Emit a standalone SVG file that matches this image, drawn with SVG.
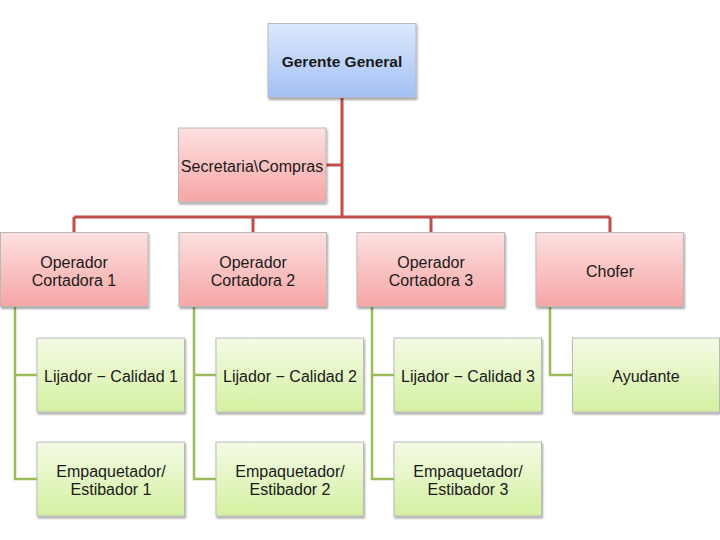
<svg xmlns="http://www.w3.org/2000/svg" width="720" height="540" viewBox="0 0 720 540">
<defs>
<linearGradient id="gBlue" x1="0" y1="0" x2="0" y2="1">
<stop offset="0" stop-color="#dce8fc"/>
<stop offset="1" stop-color="#a3c0f5"/>
</linearGradient>
<linearGradient id="gRed" x1="0" y1="0" x2="0" y2="1">
<stop offset="0" stop-color="#fde0e0"/>
<stop offset="1" stop-color="#f6a5a5"/>
</linearGradient>
<linearGradient id="gGreen" x1="0" y1="0" x2="0" y2="1">
<stop offset="0" stop-color="#f4fbe6"/>
<stop offset="1" stop-color="#d4f0a0"/>
</linearGradient>
<filter id="sh" x="-10%" y="-10%" width="130%" height="130%">
<feGaussianBlur in="SourceAlpha" stdDeviation="1.2"/>
<feOffset dx="1" dy="1.5" result="b"/>
<feComponentTransfer><feFuncA type="linear" slope="0.35"/></feComponentTransfer>
<feMerge><feMergeNode/><feMergeNode in="SourceGraphic"/></feMerge>
</filter>
</defs>
<style>
.box{stroke:#b9b9b9;stroke-width:1;filter:url(#sh)}
.blue{fill:url(#gBlue)}
.red{fill:url(#gRed)}
.green{fill:url(#gGreen)}
text{font-family:"Liberation Sans","Noto Sans",Arial,sans-serif;font-size:16px;fill:#1a1a1a;text-anchor:middle}
.b{font-weight:bold;font-size:15.5px}
.rl{stroke:#bf4d4b;stroke-width:3;fill:none}
.gl{stroke:#9bbb59;stroke-width:2.5;fill:none}
</style>
<rect width="720" height="540" fill="#ffffff"/>
<g id="connectors">
<path class="rl" d="M342 97 V217 M326 165 H342 M74 217 H610 M74 217 V232 M253 217 V232 M431 217 V232 M610 217 V232"/>
<path class="gl" d="M15 306 V479 H37 M15 375 H37"/>
<path class="gl" d="M194 306 V479 H216 M194 375 H216"/>
<path class="gl" d="M372 306 V479 H394 M372 375 H394"/>
<path class="gl" d="M550 306 V375 H572"/>
</g>
<g id="gerente"><rect class="box blue" x="268" y="23.5" width="148" height="74"/><text class="b" x="342" y="66.5">Gerente General</text></g>
<g id="secretaria"><rect class="box red" x="178.5" y="128" width="147.5" height="74"/><text x="252" y="171.5">Secretaria\Compras</text></g>
<g id="op1"><rect class="box red" x="0.5" y="232.5" width="147.5" height="74"/><text x="74" y="267.5">Operador</text><text x="74" y="286">Cortadora 1</text></g>
<g id="op2"><rect class="box red" x="179" y="232.5" width="147.5" height="74"/><text x="253" y="267.5">Operador</text><text x="253" y="286">Cortadora 2</text></g>
<g id="op3"><rect class="box red" x="357" y="232.5" width="147.5" height="74"/><text x="431" y="267.5">Operador</text><text x="431" y="286">Cortadora 3</text></g>
<g id="chofer"><rect class="box red" x="536" y="232.5" width="147.5" height="74"/><text x="610" y="276.5">Chofer</text></g>
<g id="lij1"><rect class="box green" x="37" y="338" width="147.5" height="74"/><text x="111" y="381.5">Lijador − Calidad 1</text></g>
<g id="lij2"><rect class="box green" x="216" y="338" width="147.5" height="74"/><text x="290" y="381.5">Lijador − Calidad 2</text></g>
<g id="lij3"><rect class="box green" x="394" y="338" width="147.5" height="74"/><text x="468" y="381.5">Lijador − Calidad 3</text></g>
<g id="ayudante"><rect class="box green" x="572.5" y="338" width="147" height="74"/><text x="646" y="381.5">Ayudante</text></g>
<g id="emp1"><rect class="box green" x="37" y="442" width="147.5" height="74"/><text x="111" y="477">Empaquetador/</text><text x="111" y="495">Estibador 1</text></g>
<g id="emp2"><rect class="box green" x="216" y="442" width="147.5" height="74"/><text x="290" y="477">Empaquetador/</text><text x="290" y="495">Estibador 2</text></g>
<g id="emp3"><rect class="box green" x="394" y="442" width="147.5" height="74"/><text x="468" y="477">Empaquetador/</text><text x="468" y="495">Estibador 3</text></g>
</svg>
